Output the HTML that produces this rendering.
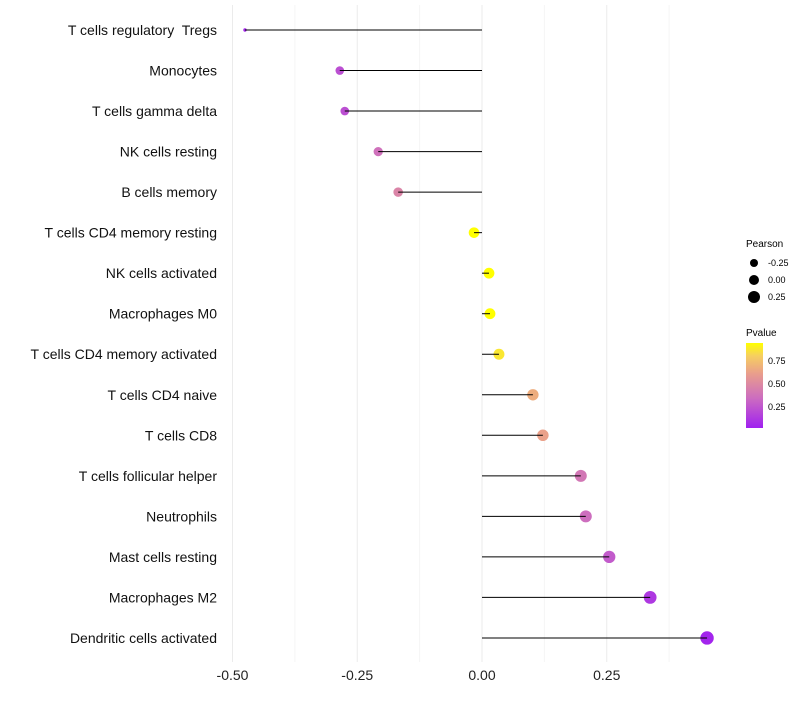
<!DOCTYPE html>
<html><head><meta charset="utf-8"><style>
body{margin:0;background:#fff;font-family:"Liberation Sans",sans-serif}
text{white-space:pre}
</style></head><body>
<svg id="c" width="800" height="700" xmlns="http://www.w3.org/2000/svg">
<defs><linearGradient id="pg" x1="0" y1="1" x2="0" y2="0">
<stop offset="0" stop-color="#a020f0"/><stop offset="0.35" stop-color="#cc6cc0"/><stop offset="0.65" stop-color="#eaa08a"/><stop offset="0.85" stop-color="#f6cf60"/><stop offset="1" stop-color="#ffff00"/></linearGradient></defs>
<g id="grid"></g><g id="marks"></g><g id="labels"></g>
<g font-size="9">
<text x="746" y="247" font-size="10">Pearson</text>
<circle cx="754" cy="263" r="4"/><text x="768" y="266">-0.25</text>
<circle cx="754" cy="280" r="5"/><text x="768" y="283">0.00</text>
<circle cx="754" cy="297" r="6"/><text x="768" y="300">0.25</text>
</g>
<g font-size="9">
<text x="746" y="336" font-size="10">Pvalue</text>
<rect x="746" y="343" width="17" height="85" fill="url(#pg)"/>
<text x="768" y="364">0.75</text><text x="768" y="387">0.50</text><text x="768" y="410">0.25</text>
</g>
</svg>
<script>
const categories=["T cells regulatory  Tregs","Monocytes","T cells gamma delta","NK cells resting","B cells memory","T cells CD4 memory resting","NK cells activated","Macrophages M0","T cells CD4 memory activated","T cells CD4 naive","T cells CD8","T cells follicular helper","Neutrophils","Mast cells resting","Macrophages M2","Dendritic cells activated"];
const pearson=[-0.475,-0.285,-0.275,-0.208,-0.168,-0.016,0.014,0.016,0.034,0.102,0.122,0.198,0.208,0.255,0.337,0.451];
const pvalue=[0.03,0.2,0.2,0.35,0.45,0.95,0.92,0.92,0.85,0.65,0.6,0.38,0.33,0.25,0.1,0.02];
const xticks=[-0.5,-0.25,0,0.25];
const xtickLabels=["-0.50","-0.25","0.00","0.25"];
const NS="http://www.w3.org/2000/svg";
const X=v=>482+v*499;
const Y=i=>30+i*40.53;
function col(p){const t=Math.max(0,Math.min(1,p/0.92));
const st=[[0,[160,32,240]],[0.35,[204,108,192]],[0.65,[234,160,138]],[0.85,[246,207,96]],[1,[255,255,0]]];
for(let k=1;k<st.length;k++){if(t<=st[k][0]){const a=st[k-1],b=st[k],f=(t-a[0])/(b[0]-a[0]);return 'rgb('+a[1].map((c,j)=>Math.round(c+(b[1][j]-c)*f)).join(',')+')';}}return 'rgb(255,255,0)';}
function mk(tag,at,par){const e=document.createElementNS(NS,tag);for(const k in at)e.setAttribute(k,at[k]);document.getElementById(par).appendChild(e);return e;}
for(let v=-0.5;v<=0.4;v+=0.125){const g=mk('line',{x1:X(v),x2:X(v),y1:5,y2:662,stroke:Math.abs((v*4)%1)<1e-6?'#ebebeb':'#f5f5f5','stroke-width':1},'grid');

}
xticks.forEach((v,i)=>{const t=mk('text',{x:X(v),y:680,'text-anchor':'middle','font-size':14,fill:'#222'},'labels');t.textContent=xtickLabels[i];

});
categories.forEach((c,i)=>{const y=Y(i);
const t=mk('text',{x:217,y:y+5,'text-anchor':'end','font-size':14,fill:'#111'},'labels');t.textContent=c;


const p=pearson[i];
const r=p<-0.4?1.7:Math.sqrt(18.5+35.9*(p+0.285));
const d=mk('circle',{cx:X(p),cy:y,r:r,fill:col(pvalue[i])},'marks');


const l=mk('line',{x1:X(0),x2:X(p),y1:y,y2:y,stroke:'#000','stroke-width':1},'marks');

});
</script>
</body></html>
